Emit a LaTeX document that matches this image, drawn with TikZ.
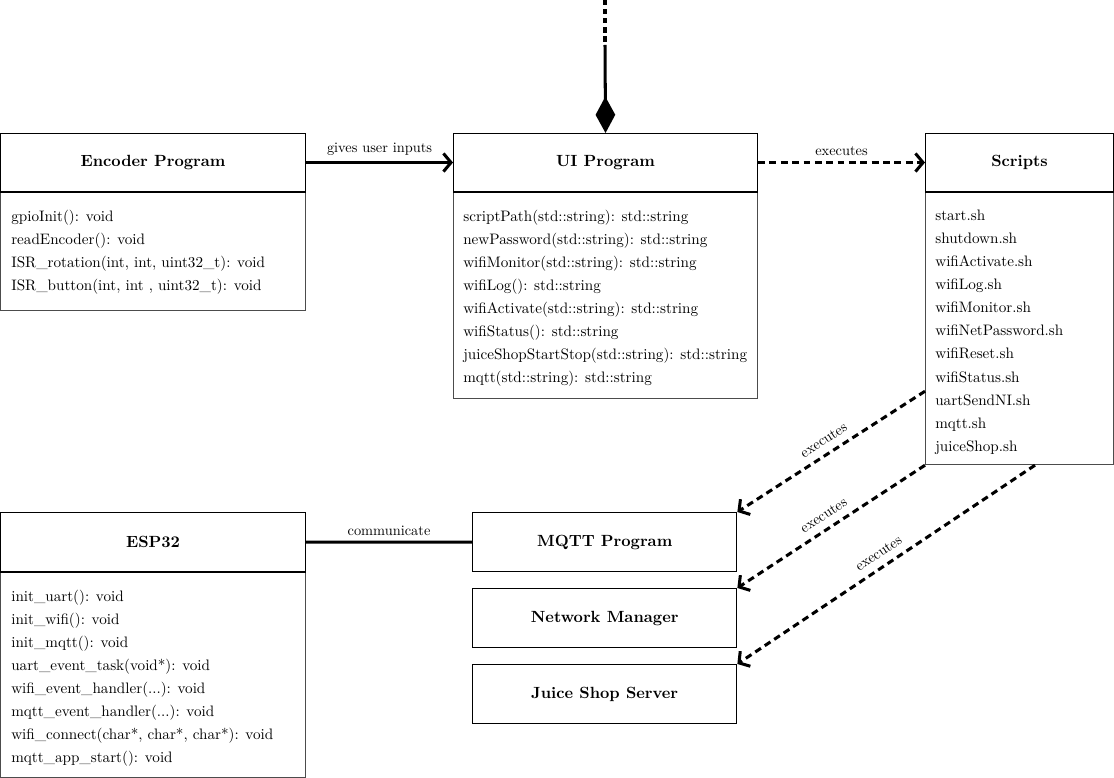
\documentclass[tikz,border=0pt]{standalone}
\usetikzlibrary{arrows.meta,calc}
\begin{document}
\begin{tikzpicture}[x=0.66pt,y=-0.66pt,
  head/.style={draw=black,line width=0.7pt,rectangle,inner sep=0pt,anchor=north west,font=\fontsize{10.7}{13}\selectfont\bfseries},
  bodybox/.style={draw=black!70,line width=0.8pt,rectangle,inner sep=0pt,anchor=north west},
  divider/.style={line width=1.6pt,black},
  members/.style={anchor=north west,inner sep=0pt,align=left,font=\fontsize{10}{15.2}\selectfont},
  plainbox/.style={draw=black,line width=0.9pt,rectangle,inner sep=0pt,anchor=north west,font=\fontsize{10.7}{13}\selectfont\bfseries},
  conn/.style={line width=2pt},
  lbl/.style={font=\fontsize{9.5}{11}\selectfont,inner sep=3.5pt},
  slbl/.style={font=\fontsize{9.5}{11}\selectfont,inner sep=5pt},
  barb/.style={-{Straight Barb[length=5pt,width=12pt]}},
  dsh/.style={dash pattern=on 4.5pt off 3pt}
]
\useasboundingbox (0,0) rectangle (1114,778);

% Encoder
\node[bodybox,minimum width=305*0.66pt,minimum height=119*0.66pt] (encb) at (0,191) {};
\node[head,minimum width=305*0.66pt,minimum height=58*0.66pt] (enc) at (0,133) {Encoder Program};
\draw[divider] (enc.south west) -- (enc.south east);
\node[members] (enct) at (11,210) {gpioInit(): void\\readEncoder(): void\\ISR\_rotation(int, int, uint32\_t): void\\ISR\_button(int, int , uint32\_t): void};

% UI
\node[bodybox,minimum width=304*0.66pt,minimum height=207*0.66pt] (uib) at (453,191) {};
\node[head,minimum width=304*0.66pt,minimum height=58*0.66pt] (ui) at (453,133) {UI Program};
\draw[divider] (ui.south west) -- (ui.south east);
\node[members] (uit) at (463,210) {scriptPath(std::string): std::string\\newPassword(std::string): std::string\\wifiMonitor(std::string): std::string\\wifiLog(): std::string\\wifiActivate(std::string): std::string\\wifiStatus(): std::string\\juiceShopStartStop(std::string): std::string\\mqtt(std::string): std::string};

% Scripts
\node[bodybox,minimum width=188*0.66pt,minimum height=273*0.66pt] (scrb) at (925,191) {};
\node[head,minimum width=188*0.66pt,minimum height=58*0.66pt] (scr) at (925,133) {Scripts};
\draw[divider] (scr.south west) -- (scr.south east);
\node[members] (scrt) at (935,210) {start.sh\\shutdown.sh\\wifiActivate.sh\\wifiLog.sh\\wifiMonitor.sh\\wifiNetPassword.sh\\wifiReset.sh\\wifiStatus.sh\\uartSendNI.sh\\mqtt.sh\\juiceShop.sh};

% ESP32
\node[bodybox,minimum width=305*0.66pt,minimum height=206*0.66pt] (espb) at (0,571) {};
\node[head,minimum width=305*0.66pt,minimum height=59*0.66pt] (esp) at (0,512) {ESP32};
\draw[divider] (esp.south west) -- (esp.south east);
\node[members] (espt) at (11,590) {init\_uart(): void\\init\_wifi(): void\\init\_mqtt(): void\\uart\_event\_task(void*): void\\wifi\_event\_handler(...): void\\mqtt\_event\_handler(...): void\\wifi\_connect(char*, char*, char*): void\\mqtt\_app\_start(): void};

% Simple boxes
\node[plainbox,minimum width=264*0.66pt,minimum height=59*0.66pt] (mqtt) at (472,512) {MQTT Program};
\node[plainbox,minimum width=264*0.66pt,minimum height=59*0.66pt] (net) at (472,588) {Network Manager};
\node[plainbox,minimum width=264*0.66pt,minimum height=59*0.66pt] (juice) at (472,664) {Juice Shop Server};

% Top connector
\coordinate (topend) at (605,0);
\coordinate (topmid) at (605,45);
\draw[conn,dash pattern=on 3.5pt off 2.5pt] (topend) -- (topmid);
\draw[conn,-{Diamond[length=24pt,width=13pt]}] (topmid) -- (ui.north);

% Connectors
\draw[conn,barb] (enc.east) -- node[lbl,above] {gives user inputs} (ui.west);
\draw[conn,barb,dsh] (ui.east) -- node[lbl,above] {executes} (scr.west);
\draw[conn] (esp.east) -- node[lbl,above] {communicate} (mqtt.west);

\coordinate (s1) at ($(scrb.south west)+(0,-74)$);
\coordinate (s3) at ($(scrb.south west)+(110,0)$);
\draw[conn,barb,dsh] (s1) -- node[slbl,sloped,above] {executes} (mqtt.north east);
\draw[conn,barb,dsh] (scrb.south west) -- node[slbl,sloped,above] {executes} (net.north east);
\draw[conn,barb,dsh] (s3) -- node[slbl,sloped,above] {executes} (juice.north east);
\end{tikzpicture}
\end{document}
